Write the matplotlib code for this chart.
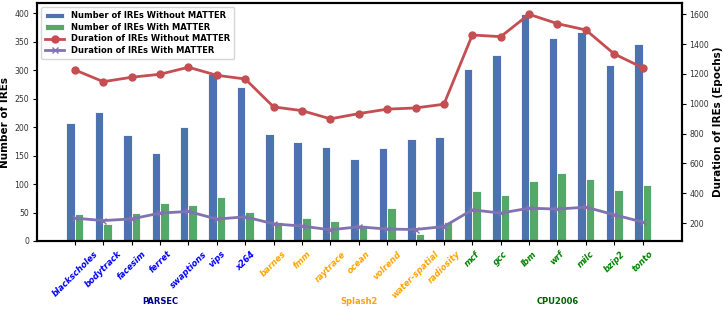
import matplotlib
matplotlib.use("Agg")
import matplotlib.pyplot as plt
import matplotlib.transforms as mtransforms
import numpy as np

categories = ["blackscholes", "bodytrack", "facesim", "ferret", "swaptions", "vips", "x264",
              "barnes", "fmm", "raytrace", "ocean", "volrend", "water-spatial", "radiosity",
              "mcf", "gcc", "lbm", "wrf", "milc", "bzip2", "tonto"]
groups = ["PARSEC", "Splash2", "CPU2006"]
group_sizes = [7, 7, 7]
tick_colors = ["#0000ff", "#ffa500", "#008000"]
group_label_colors = ["#00008b", "#ffa500", "#006400"]

num_without = [207, 226, 187, 155, 200, 293, 271, 188, 174, 166, 144, 163, 180, 183,
               302, 326, 398, 357, 367, 310, 347]
num_with = [48, 30, 50, 67, 64, 77, 51, 33, 40, 35, 28, 58, 13, 33,
            88, 81, 105, 119, 109, 90, 99]
dur_without = [1227, 1148, 1178, 1198, 1245, 1191, 1166, 979, 954, 899, 934, 964, 972, 997,
               1461, 1450, 1600, 1537, 1495, 1334, 1242]
dur_with = [233, 217, 228, 267, 278, 227, 242, 195, 180, 155, 175, 160, 157, 177,
            289, 267, 300, 294, 307, 256, 207]

blue = "#4c72b0"
green = "#55a868"
red = "#c44e52"
purple = "#8172b2"

fig = plt.figure(figsize=(7.23, 3.10), dpi=100)
ax = fig.add_axes([0.051, 0.2226, 0.892, 0.7674])
ax2 = ax.twinx()

x = np.arange(len(categories))
w = 0.3
b1 = ax.bar(x - w / 2, num_without, w, color=blue, edgecolor="white", linewidth=0.6,
            label="Number of IREs Without MATTER")
b2 = ax.bar(x + w / 2, num_with, w, color=green, edgecolor="white", linewidth=0.6,
            label="Number of IREs With MATTER")
l1, = ax2.plot(x, dur_without, color=red, marker="o", markersize=5, linewidth=2,
               label="Duration of IREs Without MATTER")
l2, = ax2.plot(x, dur_with, color=purple, marker="x", markersize=5, linewidth=2,
               label="Duration of IREs With MATTER")

ax.set_xlim(-1.34, 21.38)
ax.set_ylim(0, 418)
ax2.set_ylim(80, 1675)
ax.set_yticks([0, 50, 100, 150, 200, 250, 300, 350, 400])
ax2.set_yticks([200, 400, 600, 800, 1000, 1200, 1400, 1600])

ax.set_xticks(x)
ax.set_xticklabels(categories, rotation=45, ha="center", fontsize=6, fontweight="bold",
                   fontstyle="italic")
cols = []
for g, n in zip(tick_colors, group_sizes):
    cols += [g] * n
for lab, c in zip(ax.get_xticklabels(), cols):
    lab.set_color(c)

ax.tick_params(axis="y", labelsize=5.6, labelcolor="#333333", length=3, pad=2.5)
ax2.tick_params(axis="y", labelsize=5.6, labelcolor="#333333", length=3, pad=2.5)
ax.tick_params(axis="x", length=3, pad=3)
ax.set_ylabel("Number of IREs", fontsize=7.5, fontweight="bold", labelpad=3)
ax2.set_ylabel("Duration of IREs (Epochs)", fontsize=7.5, fontweight="bold", labelpad=3)

for a in (ax, ax2):
    for s in a.spines.values():
        s.set_linewidth(1.5)
        s.set_color("black")

trans = mtransforms.blended_transform_factory(ax.transData, fig.transFigure)
start = 0
for gname, n, c in zip(groups, group_sizes, group_label_colors):
    center = start + (n - 1) / 2
    ax.text(center, 0.029, gname, transform=trans, ha="center", va="center",
            fontsize=6, fontweight="bold", color=c)
    start += n

handles = [b1, b2, l1, l2]
leg = ax.legend(handles, [h.get_label() for h in handles], loc="upper left",
                prop={"weight": "bold", "size": 6}, handlelength=2.3,
                borderpad=0.5, labelspacing=0.3)
leg.set_zorder(10)

fig.savefig("out.png", dpi=100)
